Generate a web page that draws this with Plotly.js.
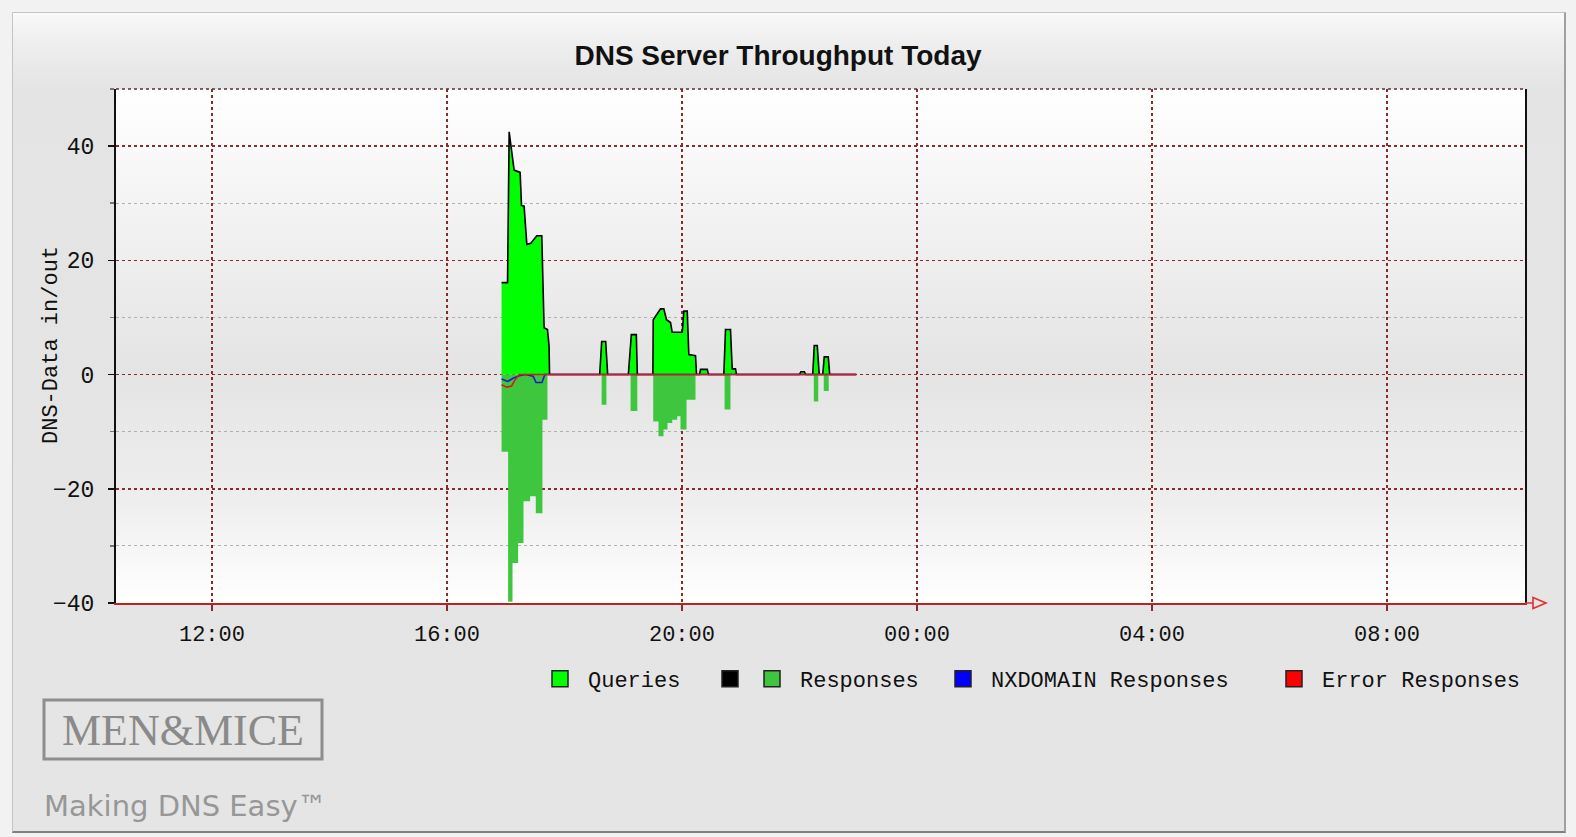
<!DOCTYPE html>
<html><head><meta charset="utf-8">
<script src="https://cdn.plot.ly/plotly-3.0.1.min.js"></script>
<style>
html,body{margin:0;padding:0;width:1576px;height:837px;overflow:hidden;background:#f2f2f2;}
#panel{position:absolute;left:12px;top:12px;width:1551px;height:818px;border:1px solid #c4c4c4;border-right:2px solid #a0a0a0;border-bottom:2px solid #808080;background:linear-gradient(to bottom,#f9f9f9 0px,#eeeeee 30px,#e4e4e4 75px,#e5e5e5 100%);}
#plotbg{position:absolute;left:116px;top:89px;width:1409px;height:514px;background:linear-gradient(to bottom,#ffffff 0%,#f2f2f2 25%,#e4e4e4 55%,#eeeeee 80%,#ffffff 100%);}
#chart{position:absolute;left:0;top:0;width:1576px;height:837px;}
</style></head><body>
<div id="panel"></div><div id="plotbg"></div><div id="chart"></div>
<script>
const DAY = '2024-01-01';
const X_RANGE = ['2024-01-01 10:22', '2024-01-02 10:21'];

const queryTimes = ['16:55:47','17:01:53','17:03:31','17:08:37','17:14:44','17:16:09','17:18:48','17:21:34','17:25:38','17:31:45','17:36:51','17:39:12','17:42:39','17:44:17','17:44:47',
  '18:36:00','18:38:02','18:42:07','18:44:09',
  '19:05:15','19:08:18','19:13:24','19:14:25',
  '19:30:20','19:30:40','19:38:07','19:41:29','19:44:14','19:48:19','19:50:03','20:00:18','20:01:56','20:05:24','20:07:01','20:13:51','20:14:53',
  '20:17:56','20:18:58','20:25:48','20:27:08',
  '20:42:45','20:44:29','20:49:35','20:51:19','20:54:41','20:55:42',
  '21:59:54','22:01:26','22:04:59','22:06:31',
  '22:13:35','22:15:07','22:18:11','22:20:13',
  '22:23:48','22:25:20','22:29:25','22:30:56','22:58:00'];
const queryValues = [16.1,16.1,42.5,35.8,35.4,29.6,29.5,22.8,23.0,24.3,24.3,8.2,7.9,5.0,0,
  0,5.8,5.8,0,
  0,7.0,7.0,0,
  0,9.6,11.5,11.5,9.6,9.1,7.4,7.4,11.1,11.1,3.5,3.3,0,
  0,0.9,0.9,0,
  0,7.9,7.9,1.0,1.0,0,
  0,0.5,0.5,0,
  0,5.1,5.1,0,
  0,3.1,3.1,0,0];

const responseTimes = ['16:55:47','17:02:28','17:06:57','17:12:40','17:18:11','17:24:55','17:30:43','17:37:31','17:42:39',
  '18:38:00','18:42:50','19:07:33','19:14:25',
  '19:30:40','19:36:03','19:41:09','19:45:14','19:50:03','19:55:09','19:58:31','20:04:40','20:13:51',
  '20:43:33','20:49:35','22:14:38','22:19:13','22:24:50','22:29:55','22:58:00'];
const responseValues = [-13.5,-39.8,-33.0,-29.5,-22.2,-21.3,-24.3,-7.9,0,
  -5.3,0,-6.4,0,
  -8.2,-10.8,-9.6,-8.5,-7.9,-7.3,-9.6,-4.4,0,
  -6.1,0,-4.7,0,-2.9,0,0];

const nxTimes = ['16:55:47','17:02:00','17:08:00','17:14:00','17:20:00','17:28:00','17:31:00','17:37:00','17:40:00','22:58:00'];
const nxValues = [-0.8,-1.2,-0.6,-0.2,0,-0.3,-1.4,-1.4,0,0];

const errTimes = ['16:55:47','17:01:00','17:06:00','17:10:00','17:14:00','22:58:00'];
const errValues = [-1.8,-2.2,-2.0,-0.8,0,0];

const seriesNames = ['Queries','','Responses','NXDOMAIN Responses','Error Responses'];
const seriesColors = ['#00ff00','#000000','#3fc63f','#0000ff','#ff0000'];
const yTitle = 'DNS-Data in/out';
const chartTitle = 'DNS Server Throughput Today';

const stamp = a => a.map(t => DAY + ' ' + t);

// geometry
const W = 1576, H = 837, ML = 116, MR = 51, MT = 89, MB = 234;
const PW = W - ML - MR, PH = H - MT - MB;
const px = p => (p - ML) / PW;
const py = p => (H - MB - p) / PH;

const MONO = 'Liberation Mono, DejaVu Sans Mono, monospace';

const traces = [
  {x: stamp(responseTimes), y: responseValues, type: 'scatter', mode: 'lines', line: {shape: 'hv', width: 0, color: seriesColors[2]}, fill: 'tozeroy', fillcolor: seriesColors[2], showlegend: false},
  {x: stamp(queryTimes), y: queryValues, type: 'scatter', mode: 'lines', line: {width: 1.6, color: '#000'}, fill: 'tozeroy', fillcolor: seriesColors[0], showlegend: false},
  {x: stamp(nxTimes), y: nxValues, type: 'scatter', mode: 'lines', line: {width: 1.6, color: '#1a1acc'}, showlegend: false},
  {x: stamp(errTimes), y: errValues, type: 'scatter', mode: 'lines', line: {width: 1.6, color: '#d81b1b'}, showlegend: false}
];

const legendX = [532, 702, 744, 935, 1266];
const legendKeys = ['legend','legend2','legend3','legend4','legend5'];
seriesNames.forEach((n, i) => {
  traces.push({x: [null], y: [null], type: 'scatter', mode: 'markers', name: n,
    marker: {symbol: 'square', size: 16, color: seriesColors[i], line: {color: '#222', width: 1.5}},
    legend: legendKeys[i], showlegend: true});
});

const layout = {
  width: W, height: H,
  margin: {l: ML, r: MR, t: MT, b: MB, pad: 0},
  paper_bgcolor: 'rgba(0,0,0,0)', plot_bgcolor: 'rgba(0,0,0,0)',
  hovermode: false,
  title: {text: chartTitle, x: 778 / W, xref: 'container', xanchor: 'center', y: 1 - 55 / H, yref: 'container', yanchor: 'middle',
    font: {family: 'Liberation Sans, Arial, sans-serif', size: 28, weight: 'bold', color: '#111'}},
  xaxis: {type: 'date', range: X_RANGE, dtick: 4 * 3600000, tick0: '2024-01-01 00:00', tickformat: '%H:%M',
    showgrid: true, gridcolor: '#8b2a2a', griddash: 'dot', gridwidth: 1.5,
    showline: true, linecolor: '#b52525', linewidth: 2, zeroline: false,
    ticks: 'outside', ticklen: 6, tickcolor: '#8b2a2a', tickwidth: 1.5,
    tickfont: {family: MONO, size: 22, color: '#111'}, ticklabelstandoff: 4},
  yaxis: {range: [-40, 50], dtick: 20, tick0: 0,
    showgrid: true, gridcolor: '#8b2a2a', griddash: 'dot', gridwidth: 1.5,
    minor: {dtick: 10, tick0: 0, showgrid: true, gridcolor: '#b0b0b0', griddash: 'dot', gridwidth: 1, ticks: 'outside', ticklen: 4, tickcolor: '#777'},
    showline: true, linecolor: '#111', linewidth: 2, mirror: true, zeroline: false,
    ticks: 'outside', ticklen: 6, tickcolor: '#111', tickwidth: 1.5,
    tickfont: {family: MONO, size: 23, color: '#111'}, ticklabelstandoff: 9},
  shapes: [
    {type: 'line', xref: 'paper', yref: 'paper', x0: 0, x1: 1, y0: 1, y1: 1, line: {color: '#5a3030', width: 1.5, dash: 'dot'}},
    {type: 'path', xref: 'paper', yref: 'paper',
      path: `M ${px(1525)},${py(603)} L ${px(1533)},${py(603)} M ${px(1533)},${py(597.5)} L ${px(1546)},${py(603)} L ${px(1533)},${py(608.5)} Z`,
      line: {color: '#e03030', width: 1.6}},
    {type: 'rect', xref: 'paper', yref: 'paper', x0: px(44), x1: px(322), y0: py(700), y1: py(759), line: {color: '#8e8e8e', width: 3}}
  ],
  annotations: [
    {text: yTitle, xref: 'paper', yref: 'paper', x: px(51), y: py(345), xanchor: 'center', yanchor: 'middle', textangle: -90, showarrow: false,
      font: {family: MONO, size: 22, color: '#111'}},
    {text: 'MEN&MICE', xref: 'paper', yref: 'paper', x: px(183), y: py(730), xanchor: 'center', yanchor: 'middle', showarrow: false,
      font: {family: 'Liberation Serif, DejaVu Serif, serif', size: 44, color: '#8a8a8a'}},
    {text: 'Making DNS Easy™', xref: 'paper', yref: 'paper', x: px(42), y: py(806), xanchor: 'left', yanchor: 'middle', showarrow: false,
      font: {family: 'DejaVu Sans, sans-serif', size: 29, color: '#979797'}}
  ]
};

legendKeys.forEach((k, i) => {
  layout[k] = {x: px(legendX[i]), xanchor: 'left', y: py(679), yanchor: 'middle', orientation: 'h',
    bgcolor: 'rgba(0,0,0,0)', borderwidth: 0, itemwidth: 46,
    font: {family: MONO, size: 22, color: '#111'}};
});

Plotly.newPlot('chart', traces, layout, {staticPlot: true, displayModeBar: false});
</script>
</body></html>
